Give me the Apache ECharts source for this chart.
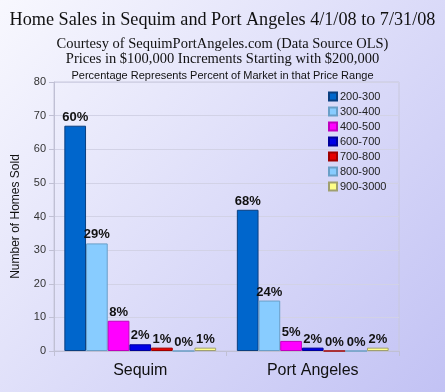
<!DOCTYPE html>
<html><head><meta charset="utf-8">
<script src="https://cdn.jsdelivr.net/npm/echarts@6/dist/echarts.min.js"></script>
<style>html,body{margin:0;padding:0;}#c{width:445px;height:392px;}</style>
</head><body><div id="c"></div>
<script>
var categories = ['Sequim', 'Port Angeles'];
var ranges = ['200-300', '300-400', '400-500', '600-700', '700-800', '800-900', '900-3000'];
var s200 = [67, 42];
var s300 = [32, 15];
var s400 = [9, 3];
var s600 = [2, 1];
var s700 = [1, 0];
var s800 = [0, 0];
var s900 = [1, 1];
var p200 = ['60%', '68%'];
var p300 = ['29%', '24%'];
var p400 = ['8%', '5%'];
var p600 = ['2%', '2%'];
var p700 = ['1%', '0%'];
var p800 = ['0%', '0%'];
var p900 = ['1%', '2%'];
var yTicks = [0, 10, 20, 30, 40, 50, 60, 70, 80];

var values = [s200, s300, s400, s600, s700, s800, s900];
var pcts = [p200, p300, p400, p600, p700, p800, p900];
var colors = ['#0066cc', '#88ccff', '#ff00ff', '#0000e6', '#e60000', '#88ccff', '#ffff88'];
var borders = ['#0a3f80', '#6a9fc8', '#c000c0', '#00009a', '#a00000', '#6a9fc8', '#a0a070'];

var series = ranges.map(function (r, i) {
  return {
    name: r, type: 'bar', barGap: 0, barCategoryGap: '12%',
    data: values[i],
    itemStyle: { color: colors[i], borderColor: borders[i], borderWidth: 1 },
    label: {
      show: true, position: 'top', distance: 2,
      fontFamily: 'Liberation Sans, Arial', fontWeight: 'bold', fontSize: 13, color: '#111',
      formatter: function (p) { return pcts[i][p.dataIndex]; }
    }
  };
});

var chart = echarts.init(document.getElementById('c'));
chart.setOption({
  backgroundColor: { type: 'linear', x: 0, y: 0, x2: 1, y2: 1,
    colorStops: [{ offset: 0, color: '#f8f8fe' }, { offset: 1, color: '#c2c2f4' }] },
  animation: false,
  title: [
    { text: 'Home Sales in Sequim and Port Angeles 4/1/08 to 7/31/08', left: 'center', top: 6,
      textStyle: { fontFamily: 'Liberation Serif, Times New Roman', fontWeight: 'normal', fontSize: 18.2, color: '#111' } },
    { text: 'Courtesy of SequimPortAngeles.com (Data Source OLS)\nPrices in $100,000 Increments Starting with $200,000',
      left: 'center', top: 32,
      textStyle: { fontFamily: 'Liberation Serif, Times New Roman', fontWeight: 'normal', fontSize: 14.5, lineHeight: 15, color: '#111' } },
    { text: 'Percentage Represents Percent of Market in that Price Range', left: 'center', top: 65,
      textStyle: { fontFamily: 'Liberation Sans, Arial', fontWeight: 'normal', fontSize: 11, color: '#111' } }
  ],
  legend: {
    orient: 'vertical', left: 323, top: 86, itemWidth: 8, itemHeight: 8, itemGap: 4,
    icon: 'rect',
    textStyle: { fontFamily: 'Liberation Sans, Arial', fontSize: 11, color: '#222', padding: [0, 0, 0, -2] },
    data: ranges
  },
  grid: { left: 54, right: 46, top: 82, bottom: 41, show: true, borderColor: '#c8c8dc', borderWidth: 1 },
  xAxis: {
    type: 'category', data: categories,
    axisLine: { lineStyle: { color: '#c0c0d4' } },
    axisTick: { show: true, length: 5, lineStyle: { color: '#c0c0d4' } },
    axisLabel: { fontFamily: 'Liberation Sans, Arial', fontSize: 16, color: '#111', margin: 12 }
  },
  yAxis: {
    type: 'value', min: 0, max: 80, interval: 10,
    name: 'Number of Homes Sold', nameLocation: 'middle', nameGap: 32, nameRotate: 90,
    nameTextStyle: { fontFamily: 'Liberation Sans, Arial', fontSize: 12, color: '#111' },
    axisLine: { show: true, lineStyle: { color: '#c0c0d4' } },
    axisTick: { show: true, length: 5, lineStyle: { color: '#c0c0d4' } },
    axisLabel: { fontFamily: 'Liberation Sans, Arial', fontSize: 11, color: '#333', margin: 8,
      formatter: function (v) { return yTicks.indexOf(v) >= 0 ? String(v) : ''; } },
    splitLine: { lineStyle: { color: '#d2d2e6' } }
  },
  series: series
});
</script></body></html>
